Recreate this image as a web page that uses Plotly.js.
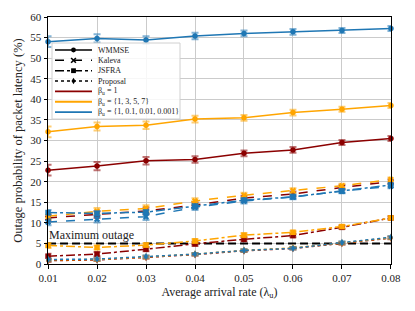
<!DOCTYPE html>
<html><head><meta charset="utf-8">
<script src="https://cdn.plot.ly/plotly-3.0.1.min.js"></script>
<style>html,body{margin:0;padding:0;background:#fff}#chart{width:415px;height:311px}</style>
</head><body><div id="chart"></div>
<script>
// ---- data ----
const lambda = [0.01, 0.02, 0.03, 0.04, 0.05, 0.06, 0.07, 0.08];
const wmmse_b1    = [22.8, 23.8, 25.1, 25.4, 26.9, 27.7, 29.5, 30.5];
const wmmse_b1357 = [32.1, 33.4, 33.7, 35.2, 35.5, 36.8, 37.6, 38.5];
const wmmse_bdec  = [54.0, 54.8, 54.4, 55.4, 56.0, 56.4, 56.7, 57.2];
const kaleva_b1    = [11.2, 12.0, 12.9, 14.3, 16.0, 17.0, 18.6, 20.0];
const kaleva_b1357 = [11.6, 12.8, 13.5, 15.3, 16.7, 17.8, 19.0, 20.5];
const kaleva_bdec  = [10.2, 10.9, 11.5, 13.8, 15.3, 16.3, 17.7, 18.9];
const jsfra_b1    = [1.9, 2.4, 3.6, 4.9, 6.0, 6.9, 8.9, 11.2];
const jsfra_b1357 = [4.5, 4.0, 4.6, 5.6, 7.0, 7.7, 9.1, 11.2];
const jsfra_bdec  = [12.5, 12.3, 12.6, 14.0, 15.5, 16.3, 17.7, 19.2];
const prop_b1    = [0.8, 1.0, 1.6, 2.3, 3.2, 3.8, 5.0, 6.3];
const prop_b1357 = [1.0, 1.1, 1.7, 2.4, 3.3, 3.9, 5.1, 6.4];
const prop_bdec  = [1.1, 1.2, 1.8, 2.4, 3.3, 3.8, 5.2, 6.5];
const wmmse_err  = [1.3, 1.0, 0.9, 0.8, 0.7, 0.7, 0.6, 0.6];
const kaleva_err = [0.8, 0.8, 0.8, 0.7, 0.6, 0.6, 0.5, 0.5];
const jsfra_err  = [0.6, 0.5, 0.5, 0.5, 0.5, 0.4, 0.4, 0.4];
const prop_err   = [0.3, 0.3, 0.3, 0.3, 0.3, 0.3, 0.3, 0.3];
const maxOutage = 5;
const algoNames = ['WMMSE', 'Kaleva', 'JSFRA', 'Proposal'];
const betaNames = ['β<sub>u</sub> = 1', 'β<sub>u</sub> = {1, 3, 5, 7}', 'β<sub>u</sub> = {1, 0.1, 0.01, 0.001}'];
const yTicks = [0, 5, 10, 15, 20, 25, 30, 35, 40, 45, 50, 55, 60];

// ---- styles ----
const colors = ['#8b0000', '#ffa500', '#1f77b4'];
const errColors = ['rgba(139,0,0,0.55)', 'rgba(255,165,0,0.55)', 'rgba(31,119,180,0.55)'];
const dashes = ['solid', 'dash', 'dashdot', 'dot'];
const symbols = ['circle', 'x', 'square', 'diamond-tall'];
const series = [
  [wmmse_b1, wmmse_b1357, wmmse_bdec],
  [kaleva_b1, kaleva_b1357, kaleva_bdec],
  [jsfra_b1, jsfra_b1357, jsfra_bdec],
  [prop_b1, prop_b1357, prop_bdec]
];
const errs = [wmmse_err, kaleva_err, jsfra_err, prop_err];

const traces = [];
traces.push({x: [lambda[0], lambda[lambda.length-1]], y: [maxOutage, maxOutage], mode: 'lines',
  line: {color: 'black', width: 2, dash: '8px,4px'}, showlegend: false, hoverinfo: 'skip'});
for (let a = 0; a < 4; a++) {
  for (let b = 0; b < 3; b++) {
    traces.push({
      x: lambda, y: series[a][b], mode: 'lines+markers', showlegend: false, cliponaxis: false,
      line: {color: colors[b], width: 1.5, dash: dashes[a]},
      marker: {color: colors[b], size: 5.5, symbol: symbols[a]},
      error_y: {type: 'data', array: errs[a], color: errColors[b], thickness: 2, width: 3.5}
    });
  }
}

// ---- manual legend (pixel -> paper) ----
const L = 48, R = 391, T = 17, B = 264;
const px = v => (v - L) / (R - L);
const py = v => (B - v) / (B - T);
const shapes = [];
const annotations = [];
shapes.push({type: 'rect', xref: 'paper', yref: 'paper', x0: px(52), x1: px(180), y0: py(43), y1: py(119),
  fillcolor: 'rgba(255,255,255,0.85)', line: {color: '#d0d0d0', width: 1}, layer: 'above'});
const legendRows = algoNames.concat(betaNames);
function markerShape(kind, cx, cy) {
  const r = 2.4;
  const base = {xref: 'paper', yref: 'paper', layer: 'above'};
  if (kind === 0) return [Object.assign({type: 'circle', x0: px(cx - r), x1: px(cx + r), y0: py(cy + r), y1: py(cy - r),
    fillcolor: 'black', line: {color: 'black', width: 0}}, base)];
  if (kind === 2) return [Object.assign({type: 'rect', x0: px(cx - r), x1: px(cx + r), y0: py(cy + r), y1: py(cy - r),
    fillcolor: 'black', line: {color: 'black', width: 0}}, base)];
  if (kind === 1) return [
    Object.assign({type: 'line', x0: px(cx - r), x1: px(cx + r), y0: py(cy - r), y1: py(cy + r), line: {color: 'black', width: 1.6}}, base),
    Object.assign({type: 'line', x0: px(cx - r), x1: px(cx + r), y0: py(cy + r), y1: py(cy - r), line: {color: 'black', width: 1.6}}, base)];
  const p = 'M' + px(cx) + ',' + py(cy - 3.2) + ' L' + px(cx + 2) + ',' + py(cy) + ' L' + px(cx) + ',' + py(cy + 3.2) +
            ' L' + px(cx - 2) + ',' + py(cy) + ' Z';
  return [Object.assign({type: 'path', path: p, fillcolor: 'black', line: {color: 'black', width: 0}}, base)];
}
legendRows.forEach((name, i) => {
  const yy = 50 + i * 10.35;
  const isAlgo = i < 4;
  shapes.push({type: 'line', xref: 'paper', yref: 'paper', x0: px(55), x1: px(92), y0: py(yy), y1: py(yy),
    line: {color: isAlgo ? 'black' : colors[i - 4], width: isAlgo ? 1.5 : 1.8, dash: isAlgo ? dashes[i] : 'solid'}, layer: 'above'});
  if (isAlgo) markerShape(i, 73.5, yy).forEach(s => shapes.push(s));
  annotations.push({xref: 'paper', yref: 'paper', x: px(96), y: py(yy), text: name, showarrow: false,
    xanchor: 'left', yanchor: 'middle', font: {family: 'Liberation Serif', size: 8, color: '#222'}});
});
annotations.push({x: lambda[0], y: maxOutage + 0.2, xref: 'x', yref: 'y', text: 'Maximum outage', showarrow: false,
  xanchor: 'left', yanchor: 'bottom', borderpad: 0, font: {family: 'Liberation Serif', size: 12, color: '#222'}});

const layout = {
  width: 415, height: 311,
  margin: {l: L, r: 415 - R, t: T, b: 311 - B},
  paper_bgcolor: 'white', plot_bgcolor: 'white',
  font: {family: 'Liberation Serif', size: 11, color: '#222'},
  showlegend: false,
  xaxis: {range: [0.00999, 0.08001], tickmode: 'array', tickvals: lambda, tickformat: '.2f',
    showgrid: true, gridcolor: '#cbcbcb', gridwidth: 1, zeroline: false,
    showline: true, linecolor: 'black', linewidth: 1, mirror: true, ticks: 'outside', ticklen: 3.5, tickcolor: 'black',
    title: {text: 'Average arrival rate (λ<sub>u</sub>)', font: {size: 12}, standoff: 4}},
  yaxis: {range: [0, 60], tickmode: 'array', tickvals: yTicks,
    showgrid: true, gridcolor: '#cbcbcb', gridwidth: 1, zeroline: false,
    showline: true, linecolor: 'black', linewidth: 1, mirror: true, ticks: 'outside', ticklen: 3.5, tickcolor: 'black',
    title: {text: 'Outage probability of packet latency (%)', font: {size: 12.5}, standoff: 4}},
  shapes: shapes,
  annotations: annotations
};
Plotly.newPlot('chart', traces, layout, {displayModeBar: false});
</script></body></html>
